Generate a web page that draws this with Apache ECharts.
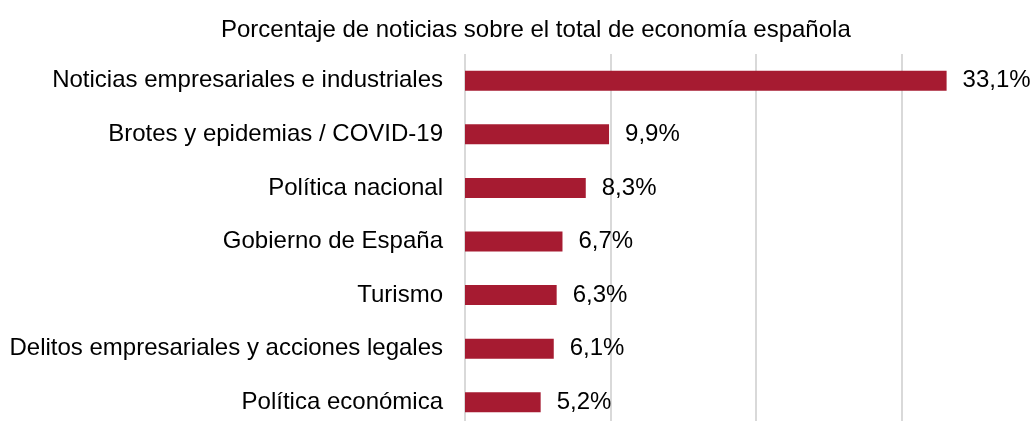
<!DOCTYPE html>
<html>
<head>
<meta charset="utf-8">
<script src="https://cdn.jsdelivr.net/npm/echarts@6/dist/echarts.min.js"></script>
<style>
  html, body { margin: 0; padding: 0; background: #fff; }
  #chartmain { width: 1033px; height: 421px; }
</style>
</head>
<body>
<div id="chartmain"></div>
<script>
// categorias (de arriba a abajo)
var categorias = [
    'Noticias empresariales e industriales',
    'Brotes y epidemias / COVID-19',
    'Política nacional',
    'Gobierno de España',
    'Turismo',
    'Delitos empresariales y acciones legales',
    'Política económica'
];
var porcentajes = [33.1, 9.9, 8.3, 6.7, 6.3, 6.1, 5.2];
var titulo = 'Porcentaje de noticias sobre el total de economía española';

var font = '"Liberation Sans", Arial, Helvetica, sans-serif';

var option = {
    animation: false,
    title: {
        text: titulo,
        left: 216,
        top: 13,
        textStyle: {
            fontFamily: font,
            fontSize: 24,
            fontWeight: 'normal',
            color: '#000'
        }
    },
    grid: {
        left: 465,
        top: 54,
        width: 582,
        height: 375,
        containLabel: false,
        outerBoundsMode: 'none'
    },
    xAxis: {
        type: 'value',
        min: 0,
        max: 40,
        interval: 10,
        axisLabel: { show: false },
        axisLine: { show: false },
        axisTick: { show: false },
        splitLine: {
            lineStyle: { color: '#d9d9d9', width: 2 }
        }
    },
    yAxis: {
        type: 'category',
        inverse: true,
        data: categorias,
        axisLine: { show: false },
        axisTick: { show: false },
        axisLabel: {
            margin: 22,
            fontFamily: font,
            fontSize: 24,
            color: '#000'
        }
    },
    series: [
        {
            type: 'bar',
            data: porcentajes,
            barWidth: 20,
            itemStyle: { color: '#A61B31' },
            label: {
                show: true,
                position: 'right',
                distance: 16,
                fontFamily: font,
                fontSize: 24,
                color: '#000',
                formatter: function (p) {
                    return p.value.toFixed(1).replace('.', ',') + '%';
                }
            }
        }
    ]
};

var myChart = echarts.init(document.getElementById('chartmain'));
myChart.setOption(option);
</script>
</body>
</html>
